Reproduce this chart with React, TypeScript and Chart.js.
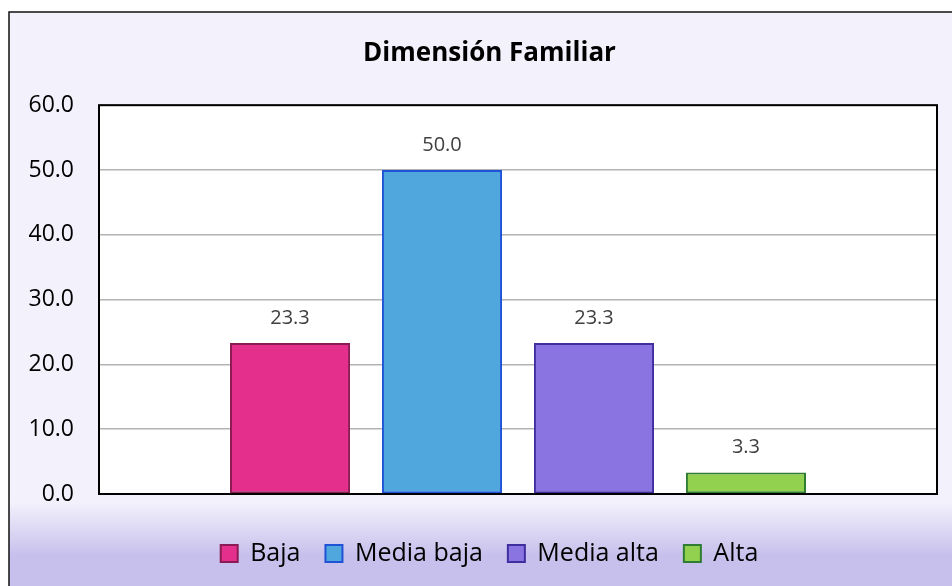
import React, { useEffect, useRef } from "react";
import { Chart, registerables } from "chart.js";

Chart.register(...registerables);

const categories = ["Dimensión Familiar"];
const seriesNames = ["Baja", "Media baja", "Media alta", "Alta"];
const seriesValues = [23.3, 50.0, 23.3, 3.3];
const fillColors = ["#E42F8C", "#4FA7DD", "#8A74E1", "#92D050"];
const borderColors = ["#8A1B55", "#1F52D6", "#3F2E9E", "#2E7D32"];
const titleText = "Dimensión Familiar";

const FONT = "'Open Sans', 'Noto Sans', sans-serif";

const bgPlugin = {
  id: "bgPlugin",
  beforeDraw(chart: any) {
    const { ctx, width, height, chartArea } = chart;
    ctx.save();
    ctx.fillStyle = "#ffffff";
    ctx.fillRect(0, 0, width, height);
    const g = ctx.createLinearGradient(0, 0, 0, height);
    g.addColorStop(0, "#F3F2FC");
    g.addColorStop(502 / height, "#F3F2FC");
    g.addColorStop(555 / height, "#C8C0EC");
    g.addColorStop(1, "#C8C0EC");
    ctx.fillStyle = g;
    ctx.fillRect(9, 12, width, height);
    ctx.strokeStyle = "#111111";
    ctx.lineWidth = 1.5;
    ctx.beginPath();
    ctx.moveTo(9, height + 5);
    ctx.lineTo(9, 12);
    ctx.lineTo(width + 5, 12);
    ctx.stroke();
    ctx.fillStyle = "#ffffff";
    ctx.fillRect(chartArea.left, chartArea.top, chartArea.right - chartArea.left, chartArea.bottom - chartArea.top);
    ctx.restore();
  },
  afterDraw(chart: any) {
    const { ctx, chartArea } = chart;
    ctx.save();
    ctx.strokeStyle = "#000000";
    ctx.lineWidth = 2;
    ctx.strokeRect(chartArea.left, chartArea.top, chartArea.right - chartArea.left, chartArea.bottom - chartArea.top);
    ctx.restore();
  },
};

const labelPlugin = {
  id: "labelPlugin",
  afterDatasetsDraw(chart: any) {
    const { ctx } = chart;
    ctx.save();
    ctx.font = `20px ${FONT}`;
    ctx.fillStyle = "#404040";
    ctx.textAlign = "center";
    ctx.textBaseline = "middle";
    chart.data.datasets.forEach((ds: any, i: number) => {
      const meta = chart.getDatasetMeta(i);
      meta.data.forEach((bar: any, j: number) => {
        const v = ds.data[j];
        ctx.fillText(v.toFixed(1), bar.x, bar.y - 25);
      });
    });
    ctx.restore();
  },
};

export default function App() {
  const ref = useRef<HTMLCanvasElement>(null);
  useEffect(() => {
    if (!ref.current) return;
    const chart = new Chart(ref.current, {
      type: "bar",
      data: {
        labels: categories,
        datasets: seriesNames.map((name, i) => ({
          label: name,
          data: [seriesValues[i]],
          backgroundColor: fillColors[i],
          borderColor: borderColors[i],
          borderWidth: 2,
          borderSkipped: false,
          categoryPercentage: 0.7255,
          barPercentage: 0.79,
        })),
      },
      options: {
        animation: false,
        responsive: false,
        maintainAspectRatio: false,
        layout: { padding: { left: 42, right: 15, top: 0, bottom: 10 } },
        plugins: {
          title: {
            display: true,
            text: titleText,
            color: "#000000",
            font: { family: FONT, size: 26, weight: "bold" },
            padding: { top: 38, bottom: 36 },
          },
          legend: {
            display: true,
            position: "bottom",
            labels: {
              color: "#000000",
              font: { family: FONT, size: 25 },
              boxWidth: 17,
              boxHeight: 17,
              padding: 25,
            },
          },
          tooltip: { enabled: false },
        },
        scales: {
          x: {
            display: true,
            ticks: { display: false },
            grid: { display: false, drawTicks: false },
            border: { display: false },
            afterFit(scale: any) {
              scale.height = 22;
            },
          },
          y: {
            min: 0,
            max: 60,
            afterFit(scale: any) {
              scale.width = 57;
              scale._computeLabelArea = () => null;
            },
            ticks: {
              stepSize: 10,
              padding: 25,
              color: "#000000",
              font: { family: FONT, size: 23 },
              callback: (v: any) => Number(v).toFixed(1),
            },
            grid: { color: "#B3B3B3", lineWidth: 1.5, drawTicks: false },
            border: { display: false },
          },
        },
      },
      plugins: [bgPlugin, labelPlugin],
    });
    return () => chart.destroy();
  }, []);
  return (
    <div style={{ position: "fixed", left: 0, top: 0, width: 952, height: 586 }}>
      <canvas ref={ref} width={952} height={586} style={{ display: "block" }} />
    </div>
  );
}
